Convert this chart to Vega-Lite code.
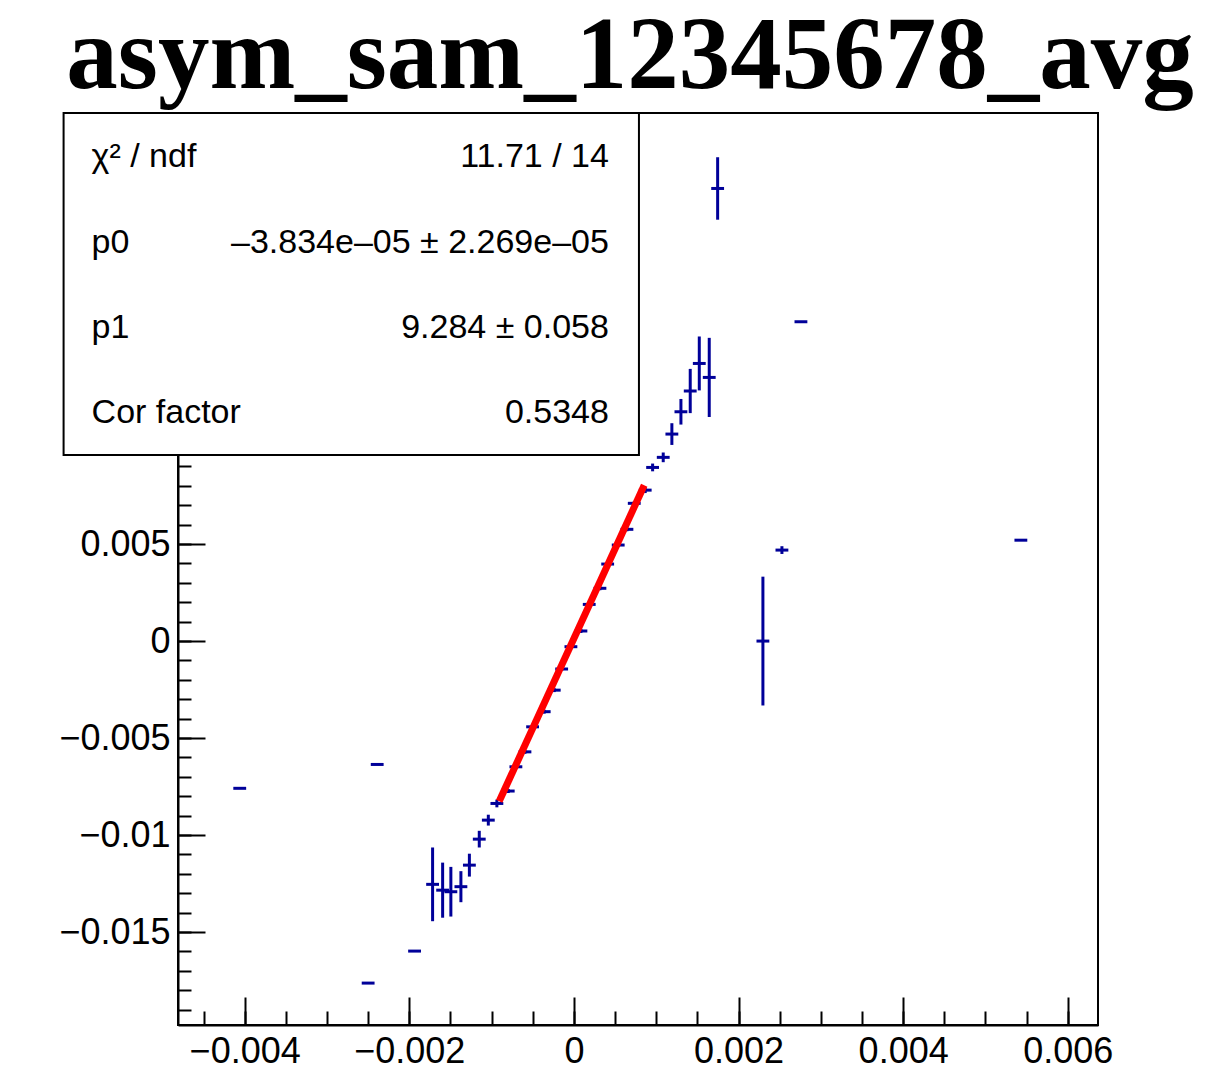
{
  "$schema": "https://vega.github.io/schema/vega-lite/v6.json",
  "width": 920,
  "height": 912,
  "autosize": {"type": "none"},
  "padding": {"left": 178, "top": 113, "right": 115, "bottom": 58},
  "background": "white",
  "title": {
    "text": "asym_sam_12345678_avg",
    "font": "Liberation Serif",
    "fontWeight": "bold",
    "fontSize": 103,
    "color": "black",
    "anchor": "middle",
    "baseline": "top",
    "offset": 2,
    "dx": -8
  },
  "config": {
    "view": {"stroke": "black", "strokeWidth": 2},
    "axis": {
      "grid": false,
      "domainColor": "black",
      "domainWidth": 2,
      "tickColor": "black",
      "tickWidth": 2,
      "labelColor": "black",
      "labelFont": "Liberation Sans",
      "labelFontSize": 36
    }
  },
  "datasets": {
    "pts": [
      {"x": -0.00406, "y": -0.00759, "ex": 0.000078, "ey": 0},
      {"x": -0.0025, "y": -0.01763, "ex": 0.000078, "ey": 0},
      {"x": -0.00239, "y": -0.00636, "ex": 0.000078, "ey": 0},
      {"x": -0.001936, "y": -0.01598, "ex": 0.000078, "ey": 0},
      {"x": -0.001717, "y": -0.01254, "ex": 0.000078, "ey": 0.0019},
      {"x": -0.001595, "y": -0.01284, "ex": 0.000078, "ey": 0.00142},
      {"x": -0.001495, "y": -0.01292, "ex": 0.000078, "ey": 0.00128},
      {"x": -0.001373, "y": -0.01266, "ex": 0.000078, "ey": 0.0008},
      {"x": -0.00127, "y": -0.01155, "ex": 0.000078, "ey": 0.00059},
      {"x": -0.00115, "y": -0.01021, "ex": 0.000078, "ey": 0.00043},
      {"x": -0.00104, "y": -0.00923, "ex": 0.000078, "ey": 0.00028},
      {"x": -0.000936, "y": -0.00837, "ex": 0.000078, "ey": 0.0002},
      {"x": -0.000798, "y": -0.00773, "ex": 0.000078, "ey": 0.0001},
      {"x": -0.000705, "y": -0.00648, "ex": 0.000078, "ey": 0.0001},
      {"x": -0.000595, "y": -0.00571, "ex": 0.000078, "ey": 0.0001},
      {"x": -0.000502, "y": -0.00442, "ex": 0.000078, "ey": 0.0001},
      {"x": -0.000361, "y": -0.00364, "ex": 0.000078, "ey": 0.0001},
      {"x": -0.000239, "y": -0.00253, "ex": 0.000078, "ey": 0.0001},
      {"x": -0.000149, "y": -0.00144, "ex": 0.000078, "ey": 0.0001},
      {"x": -0.0000365, "y": -0.00029, "ex": 0.000078, "ey": 0.0001},
      {"x": 0.000085, "y": 0.00052, "ex": 0.000078, "ey": 0.0001},
      {"x": 0.000186, "y": 0.00189, "ex": 0.000078, "ey": 0.0001},
      {"x": 0.000316, "y": 0.00272, "ex": 0.000078, "ey": 0.0001},
      {"x": 0.00041, "y": 0.00397, "ex": 0.000078, "ey": 0.0001},
      {"x": 0.000538, "y": 0.00495, "ex": 0.000078, "ey": 0.0001},
      {"x": 0.000644, "y": 0.00576, "ex": 0.000078, "ey": 0.0001},
      {"x": 0.000733, "y": 0.0071, "ex": 0.000078, "ey": 0.0001},
      {"x": 0.000866, "y": 0.00778, "ex": 0.000078, "ey": 0.00015},
      {"x": 0.000956, "y": 0.00895, "ex": 0.000078, "ey": 0.0002},
      {"x": 0.001085, "y": 0.00947, "ex": 0.000078, "ey": 0.00025},
      {"x": 0.00119, "y": 0.01067, "ex": 0.000078, "ey": 0.00056},
      {"x": 0.0013, "y": 0.01182, "ex": 0.000078, "ey": 0.00066},
      {"x": 0.001413, "y": 0.01289, "ex": 0.000078, "ey": 0.00114},
      {"x": 0.001523, "y": 0.01431, "ex": 0.000078, "ey": 0.00139},
      {"x": 0.001644, "y": 0.01359, "ex": 0.000078, "ey": 0.00204},
      {"x": 0.001746, "y": 0.02333, "ex": 0.000078, "ey": 0.00161},
      {"x": 0.002296, "y": 0.0, "ex": 0.000078, "ey": 0.00332},
      {"x": 0.002527, "y": 0.00469, "ex": 0.000078, "ey": 0.0002},
      {"x": 0.002758, "y": 0.01646, "ex": 0.000078, "ey": 0},
      {"x": 0.00543, "y": 0.0052, "ex": 0.000078, "ey": 0}
    ]
  },
  "data": {"name": "pts"},
  "resolve": {"axis": {"x": "independent", "y": "independent"}},
  "layer": [
    {
      "mark": {"type": "errorbar", "color": "#000099", "thickness": 3},
      "encoding": {
        "x": {
          "field": "x", "type": "quantitative",
          "scale": {"domain": [-0.00481, 0.006367], "nice": false, "zero": false},
          "axis": {
            "orient": "bottom", "title": null,
            "values": [-0.004, -0.002, 0, 0.002, 0.004, 0.006],
            "format": ".3~f", "tickSize": -28, "labelPadding": 37
          }
        },
        "y": {
          "field": "y", "type": "quantitative",
          "scale": {"domain": [-0.01979, 0.02722], "nice": false, "zero": false},
          "axis": {
            "orient": "left", "title": null,
            "values": [-0.015, -0.01, -0.005, 0, 0.005],
            "format": ".3~f", "tickSize": -27, "labelPadding": 35
          }
        },
        "yError": {"field": "ey"}
      }
    },
    {
      "mark": {"type": "errorbar", "color": "#000099", "thickness": 3},
      "encoding": {
        "x": {
          "field": "x", "type": "quantitative",
          "axis": {
            "orient": "bottom", "title": null, "labels": false, "domain": false,
            "values": [-0.0045, -0.004, -0.0035, -0.003, -0.0025, -0.002, -0.0015, -0.001, -0.0005, 0, 0.0005, 0.001, 0.0015, 0.002, 0.0025, 0.003, 0.0035, 0.004, 0.0045, 0.005, 0.0055, 0.006],
            "tickSize": -14
          }
        },
        "y": {
          "field": "y", "type": "quantitative",
          "axis": {
            "orient": "left", "title": null, "labels": false, "domain": false,
            "values": [-0.019, -0.018, -0.017, -0.016, -0.015, -0.014, -0.013, -0.012, -0.011, -0.01, -0.009, -0.008, -0.007, -0.006, -0.005, -0.004, -0.003, -0.002, -0.001, 0, 0.001, 0.002, 0.003, 0.004, 0.005, 0.006, 0.007, 0.008, 0.009, 0.01, 0.011, 0.012, 0.013, 0.014, 0.015, 0.016, 0.017, 0.018, 0.019, 0.02, 0.021, 0.022, 0.023, 0.024, 0.025, 0.026, 0.027],
            "tickSize": -13
          }
        },
        "xError": {"field": "ex"}
      }
    },
    {
      "data": {"values": [{"x": -0.000908, "y": -0.00826}, {"x": 0.000854, "y": 0.00803}]},
      "mark": {"type": "line", "color": "#ff0000", "strokeWidth": 7},
      "encoding": {
        "x": {"field": "x", "type": "quantitative", "axis": null},
        "y": {"field": "y", "type": "quantitative", "axis": null}
      }
    },
    {
      "data": {"values": [{}]},
      "mark": {"type": "rect", "fill": "white", "stroke": "black", "strokeWidth": 2},
      "encoding": {
        "x": {"datum": -0.0062, "type": "quantitative", "axis": null},
        "x2": {"datum": 0.00079},
        "y": {"datum": 0.02722, "type": "quantitative", "axis": null},
        "y2": {"datum": 0.00959}
      }
    },
    {
      "data": {"values": [{"label": "χ² / ndf", "val": "11.71 / 14"}]},
      "layer": [
        {"mark": {"type": "text", "font": "Liberation Sans", "fontSize": 34, "align": "left", "baseline": "middle", "color": "black"},
         "encoding": {"x": {"datum": -0.00586, "type": "quantitative", "axis": null}, "y": {"datum": 0.02495, "type": "quantitative", "axis": null}, "text": {"field": "label"}}},
        {"mark": {"type": "text", "font": "Liberation Sans", "fontSize": 34, "align": "right", "baseline": "middle", "color": "black"},
         "encoding": {"x": {"datum": 0.000425, "type": "quantitative", "axis": null}, "y": {"datum": 0.02495, "type": "quantitative", "axis": null}, "text": {"field": "val"}}}
      ]
    },
    {
      "data": {"values": [{"label": "p0", "val": "–3.834e–05 ± 2.269e–05"}]},
      "layer": [
        {"mark": {"type": "text", "font": "Liberation Sans", "fontSize": 34, "align": "left", "baseline": "middle", "color": "black"},
         "encoding": {"x": {"datum": -0.00586, "type": "quantitative", "axis": null}, "y": {"datum": 0.02052, "type": "quantitative", "axis": null}, "text": {"field": "label"}}},
        {"mark": {"type": "text", "font": "Liberation Sans", "fontSize": 34, "align": "right", "baseline": "middle", "color": "black"},
         "encoding": {"x": {"datum": 0.000425, "type": "quantitative", "axis": null}, "y": {"datum": 0.02052, "type": "quantitative", "axis": null}, "text": {"field": "val"}}}
      ]
    },
    {
      "data": {"values": [{"label": "p1", "val": "9.284 ± 0.058"}]},
      "layer": [
        {"mark": {"type": "text", "font": "Liberation Sans", "fontSize": 34, "align": "left", "baseline": "middle", "color": "black"},
         "encoding": {"x": {"datum": -0.00586, "type": "quantitative", "axis": null}, "y": {"datum": 0.01613, "type": "quantitative", "axis": null}, "text": {"field": "label"}}},
        {"mark": {"type": "text", "font": "Liberation Sans", "fontSize": 34, "align": "right", "baseline": "middle", "color": "black"},
         "encoding": {"x": {"datum": 0.000425, "type": "quantitative", "axis": null}, "y": {"datum": 0.01613, "type": "quantitative", "axis": null}, "text": {"field": "val"}}}
      ]
    },
    {
      "data": {"values": [{"label": "Cor factor", "val": "0.5348"}]},
      "layer": [
        {"mark": {"type": "text", "font": "Liberation Sans", "fontSize": 34, "align": "left", "baseline": "middle", "color": "black"},
         "encoding": {"x": {"datum": -0.00586, "type": "quantitative", "axis": null}, "y": {"datum": 0.01175, "type": "quantitative", "axis": null}, "text": {"field": "label"}}},
        {"mark": {"type": "text", "font": "Liberation Sans", "fontSize": 34, "align": "right", "baseline": "middle", "color": "black"},
         "encoding": {"x": {"datum": 0.000425, "type": "quantitative", "axis": null}, "y": {"datum": 0.01175, "type": "quantitative", "axis": null}, "text": {"field": "val"}}}
      ]
    }
  ]
}
